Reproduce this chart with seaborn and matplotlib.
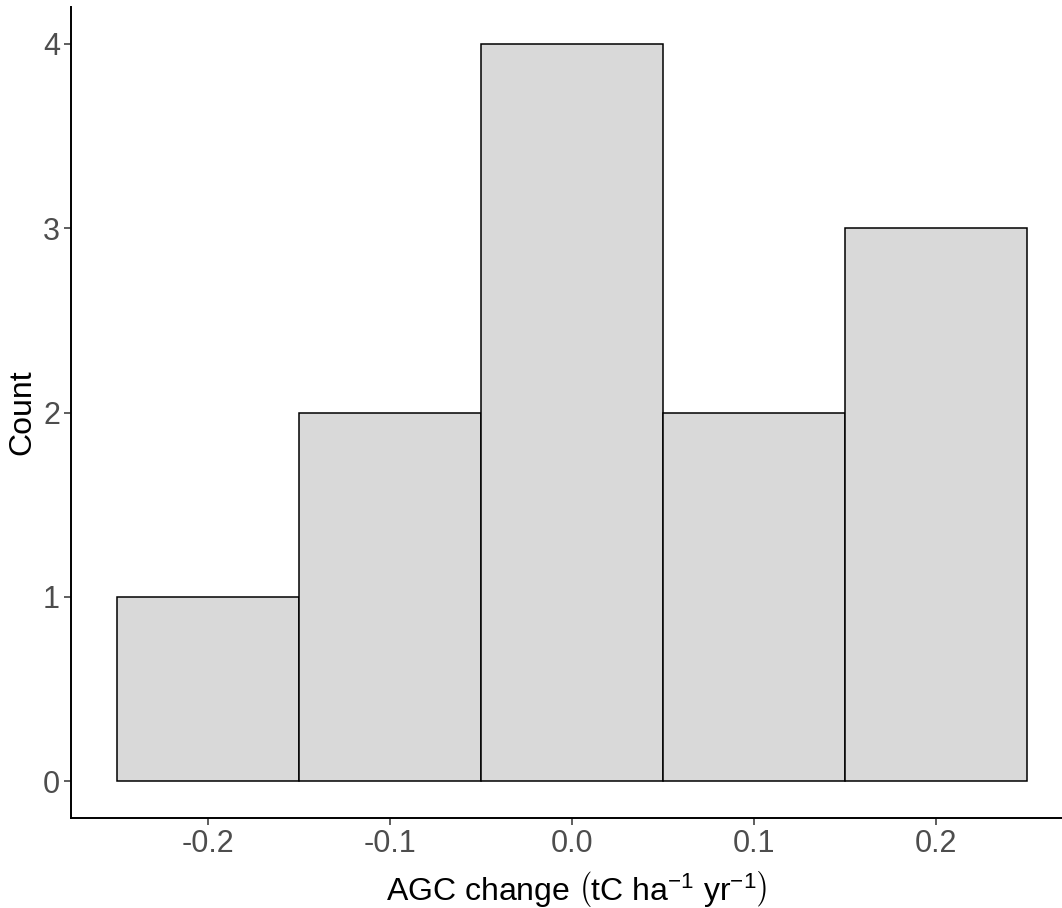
import matplotlib
matplotlib.use("Agg")
import matplotlib.pyplot as plt
import seaborn as sns
import pandas as pd

# Data
bin_centers = [-0.2, -0.1, 0.0, 0.1, 0.2]
counts = [1, 2, 4, 2, 3]
bin_edges = [-0.25, -0.15, -0.05, 0.05, 0.15, 0.25]
x_ticks = [-0.2, -0.1, 0.0, 0.1, 0.2]
x_ticklabels = ["-0.2", "-0.1", "0.0", "0.1", "0.2"]
y_ticks = [0, 1, 2, 3, 4]
x_label = r"AGC change $\left(\mathrm{tC\ ha^{-1}\ yr^{-1}}\right)$"
y_label = "Count"

df = pd.DataFrame({"agc": bin_centers, "n": counts})

sns.set_theme(style="ticks")
plt.rcParams["font.family"] = ["Liberation Sans", "DejaVu Sans"]
plt.rcParams["mathtext.fontset"] = "custom"
plt.rcParams["mathtext.rm"] = "Liberation Sans"
plt.rcParams["mathtext.it"] = "Liberation Sans"
plt.rcParams["mathtext.default"] = "regular"

fig = plt.figure(figsize=(10.62, 9.08), dpi=100)
ax = fig.add_axes([71 / 1062, 90 / 908, 1 - 71 / 1062, (818 - 7) / 908])

sns.histplot(data=df, x="agc", weights="n", bins=bin_edges, ax=ax,
             color="#D9D9D9", edgecolor="black", linewidth=1.1, alpha=1)

ax.set_xlim(-0.2753, 0.2692)
ax.set_ylim(-0.2, 4.2)
ax.set_xticks(x_ticks)
ax.set_xticklabels(x_ticklabels)
ax.set_yticks(y_ticks)
ax.set_xlabel(x_label, fontsize=23, color="black")
ax.xaxis.set_label_coords(0.5096, -0.063, transform=ax.transAxes)
ax.xaxis.label.set_verticalalignment("top")
ax.set_ylabel(y_label, fontsize=23, color="black", labelpad=4)
ax.tick_params(axis="both", labelsize=22, labelcolor="#4D4D4D", color="#333333",
               length=5, width=1.1, direction="out", pad=3)
for s in ["top", "right"]:
    ax.spines[s].set_visible(False)
for s in ["left", "bottom"]:
    ax.spines[s].set_linewidth(1.4)
    ax.spines[s].set_color("black")

fig.savefig("out.png", dpi=100)
